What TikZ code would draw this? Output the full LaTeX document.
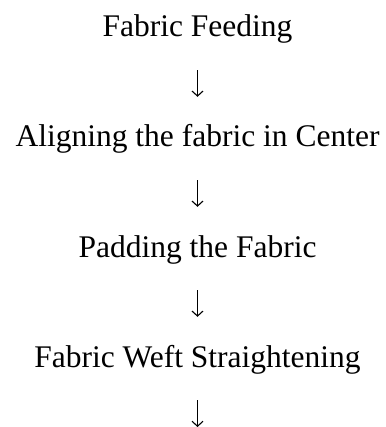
\documentclass[tikz,border=0pt]{standalone}
\usepackage{fontspec}
\setmainfont{Liberation Serif}
\usepackage{tikz}
\usetikzlibrary{arrows.meta,positioning}

\begin{document}
\begin{tikzpicture}[
        x=1pt, y=-1pt,
        stage/.style={inner sep=0pt, text height=22pt, text depth=7pt, anchor=base, font=\fontsize{31.5}{38}\selectfont},
        arrow/.style={line width=1.1pt, -{Straight Barb[length=5pt,width=11pt]}, shorten <=26pt, shorten >=28pt}
    ]
        \useasboundingbox (0,0) rectangle (385,427);

        % Process Stages
        \node[stage] (feeding) at (197.5, 37) {Fabric Feeding};
        \node[stage] (aligning) at (197.5, 147) {Aligning the fabric in Center};
        \node[stage] (padding) at (197.5, 257) {Padding the Fabric};
        \node[stage] (weft) at (197.5, 367) {Fabric Weft Straightening};
        \coordinate (next) at (197.5, 427);

        % Flow
        \draw[arrow] (feeding) -- (aligning);
        \draw[arrow] (aligning) -- (padding);
        \draw[arrow] (padding) -- (weft);
        \draw[arrow, shorten >=0pt] (weft) -- (next);
    \end{tikzpicture}
\end{document}
